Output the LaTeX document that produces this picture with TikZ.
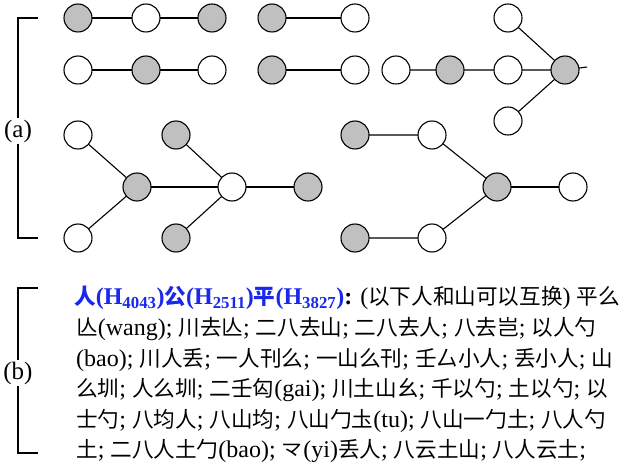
\documentclass[tikz,border=0pt]{standalone}
\usepackage{fontspec}
\setmainfont{Liberation Serif}
\newfontfamily\cjkfont[Scale=0.9]{Noto Sans CJK SC}
\usepackage{tikz}
\newcommand{\zh}[1]{{\cjkfont #1}}
\newcommand{\vertexsize}{28pt}
\definecolor{hblue}{RGB}{25,40,235}
\definecolor{vgray}{RGB}{192,192,192}
\tikzstyle{vertex}=[draw, circle, line width=1.1pt, inner sep=0, outer sep=0, minimum size=\vertexsize]
\tikzstyle{gvertex}=[vertex, fill=vgray]
\tikzstyle{wvertex}=[vertex, fill=white]
\tikzstyle{edge}=[line width=1.1pt]
\tikzstyle{txt}=[inner sep=0, anchor=base west, font=\fontsize{24}{30}\selectfont]
\tikzstyle{tag}=[inner sep=1pt, font=\fontsize{25}{30}\selectfont]

\begin{document}
\begin{tikzpicture}[x=1pt, y=-1pt]
    \useasboundingbox (0, 0) rectangle (629, 462);
    % (a): two chains in each of the first two rows
    \node[gvertex] (p1) at (78, 18) {};
    \node[wvertex] (p2) at (146, 18) {};
    \node[gvertex] (p3) at (212, 18) {};
    \node[gvertex] (q1) at (272, 18) {};
    \node[wvertex] (q2) at (355, 18) {};
    \node[wvertex] (r1) at (78, 70) {};
    \node[gvertex] (r2) at (146, 70) {};
    \node[wvertex] (r3) at (212, 70) {};
    \node[gvertex] (s1) at (272, 70) {};
    \node[wvertex] (s2) at (355, 70) {};
    \draw[edge] (p1) -- (p2) -- (p3);
    \draw[edge] (q1) -- (q2);
    \draw[edge] (r1) -- (r2) -- (r3);
    \draw[edge] (s1) -- (s2);
    % star on the right
    \node[wvertex] (t1) at (396, 70) {};
    \node[gvertex] (t2) at (450, 70) {};
    \node[wvertex] (t3) at (508, 70) {};
    \node[gvertex] (t4) at (565, 70) {};
    \node[wvertex] (tup) at (508, 18) {};
    \node[wvertex] (tdn) at (508, 121) {};
    \coordinate (tend) at (587, 67);
    \draw[edge] (t1) -- (t2) -- (t3) -- (t4) -- (tend);
    \draw[edge] (tup) -- (t4);
    \draw[edge] (tdn) -- (t4);
    % lower left tree
    \node[wvertex] (u1) at (78, 135) {};
    \node[wvertex] (u2) at (78, 238) {};
    \node[gvertex] (u3) at (137, 187) {};
    \node[gvertex] (u4) at (176, 135) {};
    \node[gvertex] (u5) at (176, 238) {};
    \node[wvertex] (u6) at (232, 187) {};
    \node[gvertex] (u7) at (308, 187) {};
    \draw[edge] (u1) -- (u3);
    \draw[edge] (u2) -- (u3);
    \draw[edge] (u3) -- (u6);
    \draw[edge] (u4) -- (u6);
    \draw[edge] (u5) -- (u6);
    \draw[edge] (u6) -- (u7);
    % lower right tree
    \node[gvertex] (v1) at (355, 135) {};
    \node[wvertex] (v2) at (432, 135) {};
    \node[gvertex] (v3) at (355, 238) {};
    \node[wvertex] (v4) at (432, 238) {};
    \node[gvertex] (v5) at (497, 187) {};
    \node[wvertex] (v6) at (573, 187) {};
    \draw[edge] (v1) -- (v2) -- (v5);
    \draw[edge] (v3) -- (v4) -- (v5);
    \draw[edge] (v5) -- (v6);
    % brackets
    \node[tag] (a) at (18, 131) {(a)};
    \coordinate (atop) at (38, 18);
    \coordinate (abot) at (38, 238);
    \draw[edge] (atop) -- (atop -| a) -- (a.north);
    \draw[edge] (a.south) -- (abot -| a) -- (abot);
    \node[tag] (b) at (18, 373) {(b)};
    \coordinate (btop) at (38, 288);
    \coordinate (bbot) at (38, 453);
    \draw[edge] (btop) -- (btop -| b) -- (b.north);
    \draw[edge] (b.south) -- (bbot -| b) -- (bbot);
    % (b): text
    \node[txt] (l1) at (74, 305) {{\bfseries\color{hblue}\zh{人}(H\textsubscript{4043})\zh{公}(H\textsubscript{2511})\zh{平}(H\textsubscript{3827})}\textbf{:} (\zh{以下人和山可以互换}) \zh{平么}};
    \node[txt] (l2) at (76, 335.5) {\zh{亾}(wang); \zh{川去亾}; \zh{二八去山}; \zh{二八去人}; \zh{八去岂}; \zh{以人勺}};
    \node[txt] (l3) at (76, 366) {(bao); \zh{川人丢}; \zh{一人刊么}; \zh{一山么刊}; \zh{壬厶小人}; \zh{丢小人}; \zh{山}};
    \node[txt] (l4) at (76, 396.5) {\zh{么圳}; \zh{人么圳}; \zh{二壬匃}(gai); \zh{川土山幺}; \zh{千以勺}; \zh{土以勺}; \zh{以}};
    \node[txt] (l5) at (76, 427) {\zh{士勺}; \zh{八均人}; \zh{八山均}; \zh{八山勹圡}(tu); \zh{八山一勹土}; \zh{八人勺}};
    \node[txt] (l6) at (76, 457.5) {\zh{土}; \zh{二八人土勹}(bao); \zh{龴}(yi)\zh{丢人}; \zh{八云土山}; \zh{八人云土};};
\end{tikzpicture}
\end{document}
